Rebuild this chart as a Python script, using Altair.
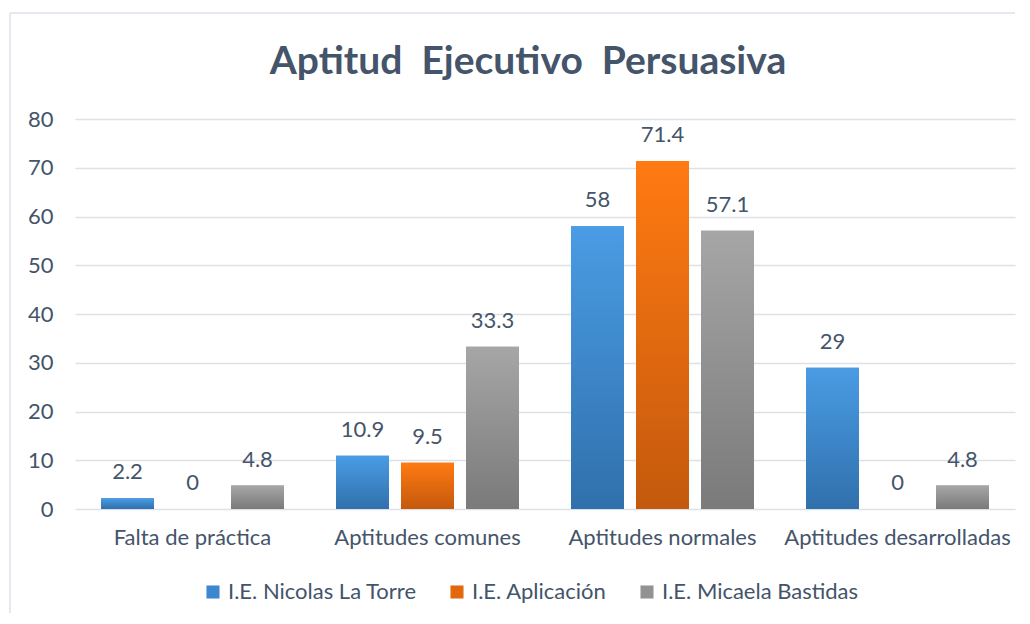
import altair as alt
import pandas as pd

categorias = ["Falta de práctica", "Aptitudes comunes", "Aptitudes normales", "Aptitudes desarrolladas"]
series = ["I.E. Nicolas La Torre", "I.E. Aplicación", "I.E. Micaela Bastidas"]
nicolas = [2.2, 10.9, 58, 29]
aplicacion = [0, 9.5, 71.4, 0]
micaela = [4.8, 33.3, 57.1, 4.8]

valores = [nicolas, aplicacion, micaela]
rows = []
for s, vals in zip(series, valores):
    for c, v in zip(categorias, vals):
        rows.append({"categoria": c, "serie": s, "valor": v, "etiqueta": f"{v:g}"})
df = pd.DataFrame(rows)

TXT = "#44546A"
FONT = "Lato"
FS = 22
FRAME = "#DDE2EA"
flat = ["#3D86D0", "#E2670F", "#929292"]
grads = [("#4A9CE4", "#3070AC"), ("#FF7A12", "#C4590D"), ("#A6A6A6", "#7A7A7A")]

x_enc = alt.X("categoria:N", sort=categorias, title=None,
              scale=alt.Scale(domain=categorias, paddingInner=0, paddingOuter=0),
              axis=alt.Axis(labelAngle=0, labelFontSize=FS, labelColor=TXT, labelFont=FONT,
                            labelPadding=18, ticks=False, domain=False, labelLimit=0))
xo_enc = alt.XOffset("serie:N", sort=series,
                     scale=alt.Scale(domain=series, paddingInner=0.185, paddingOuter=0.4))
y_enc = alt.Y("valor:Q", title=None,
              scale=alt.Scale(domain=[0, 80], nice=False),
              axis=alt.Axis(values=list(range(0, 81, 10)), labelFontSize=FS, labelColor=TXT,
                            labelFont=FONT, labelPadding=22, ticks=False, domain=False,
                            gridColor="#DCE1E8", gridWidth=1.5))

base = alt.Chart(df)

bars = base.mark_bar().encode(
    x=x_enc, xOffset=xo_enc, y=y_enc,
    color=alt.Color("serie:N", sort=series,
                    scale=alt.Scale(domain=series, range=flat),
                    legend=alt.Legend(title=None, orient="none", direction="horizontal",
                                      legendX=127, legendY=462,
                                      symbolType="square", symbolSize=170, symbolStrokeWidth=0,
                                      labelFontSize=FS, labelColor=TXT, labelFont=FONT,
                                      labelLimit=0, columnPadding=29, labelOffset=4)),
)

layers = [bars]
for s, (top, bot) in zip(series, grads):
    g = alt.Gradient(gradient="linear",
                     stops=[alt.GradientStop(color=top, offset=0), alt.GradientStop(color=bot, offset=1)],
                     x1=0, x2=0, y1=0, y2=1)
    layers.append(
        base.transform_filter(alt.datum.serie == s).mark_bar(fill=g).encode(
            x=x_enc, xOffset=xo_enc, y=y_enc)
    )

labels = base.mark_text(baseline="bottom", dy=-14, fontSize=FS, color=TXT, font=FONT).encode(
    x=x_enc, xOffset=xo_enc, y=y_enc, text="etiqueta:N")
layers.append(labels)

# chart-area frame (left and top edges, as in the reference)
frame_src = alt.Chart(pd.DataFrame({"k": [0]}))
frame_left = frame_src.mark_rule(color=FRAME, strokeWidth=1.5).encode(
    x=alt.value(-65), y=alt.value(-106), y2=alt.value(494))
frame_top = frame_src.mark_rule(color=FRAME, strokeWidth=1.5).encode(
    x=alt.value(-65), x2=alt.value(940), y=alt.value(-106))
layers = [frame_left, frame_top] + layers

chart = alt.layer(*layers).properties(
    width=940, height=390,
    padding={"left": 1, "top": 4, "right": 5, "bottom": 5},
    title=alt.TitleParams("Aptitud \u00a0Ejecutivo \u00a0Persuasiva", fontSize=39, fontWeight="bold",
                          color=TXT, font=FONT, anchor="middle", frame="group",
                          baseline="alphabetic", offset=-101, dx=-17),
).configure_view(stroke=None).configure_axisX(grid=False)

chart.save("out.html", embed_options={"renderer": "svg", "actions": False})
